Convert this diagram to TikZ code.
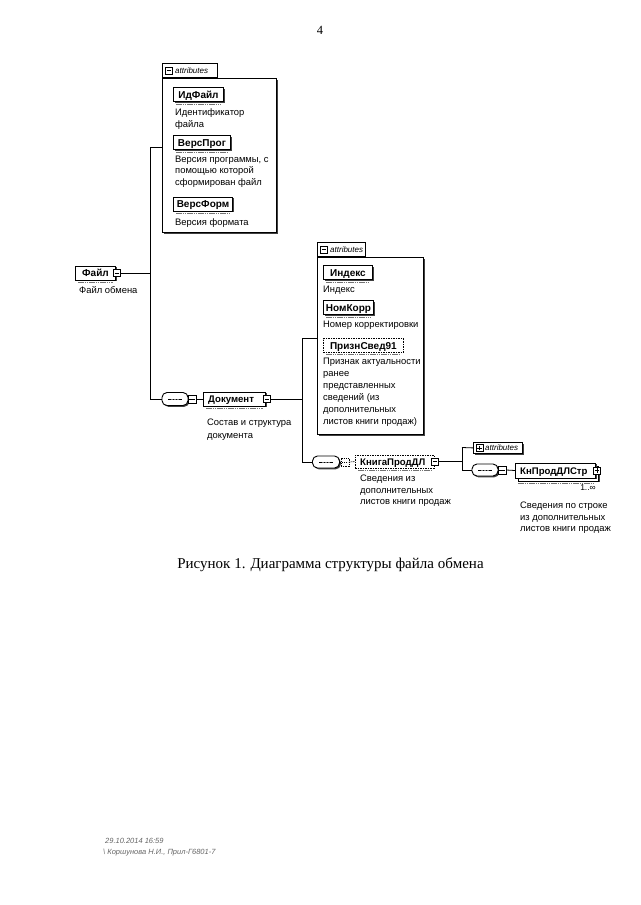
\documentclass[tikz,border=0pt]{standalone}
\usepackage{fontspec}
\setmainfont{Liberation Sans}
\newfontfamily\capserif{Liberation Serif}
\usetikzlibrary{shadows}
\begin{document}
\begin{tikzpicture}[x=1pt,y=-1pt,
  every node/.style={inner sep=0pt},
  sm/.style={font=\fontsize{9.4}{11.5}\selectfont, anchor=north west, align=left},
  shd/.style={drop shadow={shadow xshift=1.3pt,shadow yshift=-1.3pt,fill=black!75,opacity=1}},
  el/.style={draw, line width=1pt, fill=white, font=\bfseries\fontsize{10}{12}\selectfont, text height=7.2pt, text depth=0pt, minimum height=14pt, anchor=west, shd},
  opt/.style={draw, dashed, dash pattern=on 1.5pt off 1pt, line width=0.8pt, fill=white, font=\bfseries\fontsize{10}{12}\selectfont, text height=7.2pt, text depth=0pt, minimum height=14pt, anchor=west},
  lbl/.style={font=\bfseries\fontsize{9.6}{12}\selectfont, anchor=base west},
  docline/.style={black!55, line width=1pt, dash pattern=on 1.5pt off 0.7pt},
  conn/.style={line width=0.8pt},
  minusicon/.style={draw, fill=white, minimum size=7pt, inner sep=0pt, line width=0.6pt,
    path picture={\draw[line width=0.6pt] ([xshift=1.3pt]path picture bounding box.west) -- ([xshift=-1.3pt]path picture bounding box.east);}},
  plusicon/.style={draw, fill=white, minimum size=7pt, inner sep=0pt, line width=0.6pt,
    path picture={\draw[line width=0.6pt] ([xshift=1.3pt]path picture bounding box.west) -- ([xshift=-1.3pt]path picture bounding box.east) ([yshift=-1.3pt]path picture bounding box.north) -- ([yshift=1.3pt]path picture bounding box.south);}},
  seq/.style={draw, fill=white, rounded corners=5pt, minimum width=26pt, minimum height=13pt, line width=0.9pt, shd,
    path picture={\draw[line width=0.8pt] ([xshift=-7pt]path picture bounding box.center) -- ([xshift=7pt]path picture bounding box.center);
      \foreach \d in {-3,0,3}{\fill ([xshift=\d pt]path picture bounding box.center) circle (0.9pt);}}},
  attrbody/.style={draw, fill=white, line width=0.8pt, anchor=north west, shd},
  attrtab/.style={draw, fill=white, line width=0.8pt, anchor=south west, minimum height=14pt},
  attrtxt/.style={font=\itshape\fontsize{8}{9}\selectfont, anchor=west},
]
\useasboundingbox (0,0) rectangle (640,905);

% page number
\node[font=\capserif\fontsize{12.5}{14}\selectfont] (pg) at (320,30) {4};

% ---------- first attributes group
\node[attrbody, minimum width=114pt, minimum height=154pt] (a1) at (162,78) {};
\node[attrtab, minimum width=55pt] (a1t) at (162,78) {};
\node[minusicon] (a1ti) at ([xshift=7pt]a1t.west) {};
\node[attrtxt] (a1tt) at ([xshift=13pt]a1t.west) {attributes};

\node[el, minimum width=50pt] (idf) at (173,94.5) {ИдФайл};
\draw[docline] ([xshift=3pt,yshift=-2pt]idf.south west) -- ([xshift=-3pt,yshift=-2pt]idf.south east);
\node[sm] (idfd) at (175,108.5) {Идентификатор\\файла};

\node[el, minimum width=57pt] (vp) at (173,142.5) {ВерсПрог};
\draw[docline] ([xshift=3pt,yshift=-2pt]vp.south west) -- ([xshift=-3pt,yshift=-2pt]vp.south east);
\node[sm] (vpd) at (175,155.5) {Версия программы, с\\помощью которой\\сформирован файл};

\node[el, minimum width=59pt] (vf) at (173,204) {ВерсФорм};
\draw[docline] ([xshift=3pt,yshift=-2pt]vf.south west) -- ([xshift=-3pt,yshift=-2pt]vf.south east);
\node[sm] (vfd) at (175,218) {Версия формата};

% ---------- root
\node[el, minimum width=40pt] (file) at (75,273) {Файл};
\draw[docline] ([xshift=3pt,yshift=-2pt]file.south west) -- ([xshift=-3pt,yshift=-2pt]file.south east);
\node[minusicon] (fileic) at (117,273) {};
\node[sm] (filed) at (79,286) {Файл обмена};

\coordinate (v1t) at (150,147);
\coordinate (v1b) at (150,399);
\draw[conn] (fileic.east) -- (fileic.east -| v1t);
\draw[conn] (v1t) -- (v1b);
\draw[conn] (v1t) -- (v1t -| a1.west);

% ---------- Документ
\node[seq] (s1) at (175,399) {};
\node[minusicon, minimum size=8pt] (s1i) at (192,399) {};
\node[el, minimum width=62pt] (doc) at (203,399) {};
\node[lbl] (docl) at ([xshift=5pt,yshift=-3.5pt]doc.west) {Документ};
\draw[docline] ([xshift=3pt,yshift=-2pt]doc.south west) -- ([xshift=-3pt,yshift=-2pt]doc.south east);
\node[minusicon] (docic) at (267,399) {};
\node[sm, font=\fontsize{9.4}{13}\selectfont] (docd) at (207,419) {Состав и структура\\документа};
\draw[conn] (v1b) -- (s1.west);
\draw[conn] (s1.east) -- (s1i.west);
\draw[conn] (s1i.east) -- (doc.west);

% ---------- second attributes group
\node[attrbody, minimum width=106pt, minimum height=177pt] (a2) at (317,257) {};
\node[attrtab, minimum width=48pt] (a2t) at (317,257) {};
\node[minusicon] (a2ti) at ([xshift=7pt]a2t.west) {};
\node[attrtxt] (a2tt) at ([xshift=13pt]a2t.west) {attributes};

\node[el, minimum width=49pt] (idx) at (323,272.5) {Индекс};
\draw[docline] ([xshift=3pt,yshift=-2pt]idx.south west) -- ([xshift=-3pt,yshift=-2pt]idx.south east);
\node[sm] (idxd) at (323,285.5) {Индекс};

\node[el, minimum width=50pt] (nk) at (323,307.5) {НомКорр};
\draw[docline] ([xshift=3pt,yshift=-2pt]nk.south west) -- ([xshift=-3pt,yshift=-2pt]nk.south east);
\node[sm] (nkd) at (323,321) {Номер корректировки};

\node[opt, minimum width=80pt] (pr) at (323,345.5) {ПризнСвед91};
\draw[docline] ([xshift=3pt,yshift=-2pt]pr.south west) -- ([xshift=-3pt,yshift=-2pt]pr.south east);
\node[sm, font=\fontsize{9.4}{12}\selectfont] (prd) at (323,358) {Признак актуальности\\ранее\\представленных\\сведений (из\\дополнительных\\листов книги продаж)};

\coordinate (v2t) at (302,338);
\coordinate (v2b) at (302,462);
\draw[conn] (docic.east) -- (docic.east -| v2t);
\draw[conn] (v2t) -- (v2b);
\draw[conn] (v2t) -- (v2t -| a2.west);

% ---------- КнигаПродДЛ
\node[seq, minimum width=27pt, minimum height=12pt] (s2) at (326,462) {};
\node[minusicon, minimum size=8pt, dashed, dash pattern=on 1pt off 0.8pt] (s2i) at (345,462) {};
\node[opt, minimum width=79pt, minimum height=13pt] (kp) at (355,461.5) {};
\node[lbl] (kpl) at ([xshift=5pt,yshift=-3.5pt]kp.west) {КнигаПродДЛ};
\draw[docline] ([xshift=3pt,yshift=-2pt]kp.south west) -- ([xshift=-3pt,yshift=-2pt]kp.south east);
\node[minusicon] (kpic) at (435,461.5) {};
\node[sm] (kpd) at (360,475) {Сведения из\\дополнительных\\листов книги продаж};
\draw[conn] (v2b) -- (s2.west);
\draw[conn] (s2.east) -- (s2i.west);
\draw[conn, dashed, dash pattern=on 1pt off 1pt] (s2i.east) -- (kp.west);

% ---------- third level
\node[draw, fill=white, line width=0.8pt, minimum width=49pt, minimum height=11pt, anchor=north west, shd] (a3) at (473,442) {};
\node[plusicon] (a3i) at ([xshift=6.5pt]a3.west) {};
\node[attrtxt] (a3tt) at ([xshift=12pt]a3.west) {attributes};

\coordinate (v3t) at (462,447.5);
\coordinate (v3b) at (462,470);
\draw[conn] (kpic.east) -- (kpic.east -| v3t);
\draw[conn] (v3t) -- (v3b);
\draw[conn] (v3t) -- (a3.west);

\node[seq, minimum height=12pt] (s3) at (485,470) {};
\node[minusicon, minimum size=8pt] (s3i) at (502,470) {};
\draw[conn] (v3b) -- (s3.west);
\draw[conn] (s3.east) -- (s3i.west);

\node[draw, fill=white, line width=1pt, minimum width=80pt, minimum height=15pt, anchor=west, shd] (ksb) at (518,473.5) {};
\node[el, minimum width=80pt, minimum height=15pt] (ks) at (515,470.5) {};
\node[lbl] (ksl) at ([xshift=5pt,yshift=-3.5pt]ks.west) {КнПродДЛСтр};
\draw[docline] ([xshift=3pt,yshift=-5pt]ks.south west) -- ([xshift=-3pt,yshift=-5pt]ks.south east);
\node[plusicon] (ksic) at (597,470.5) {};
\node[font=\fontsize{8.5}{9}\selectfont] (ksm) at (588,487.5) {1..∞};
\node[sm] (ksd) at (520,502) {Сведения по строке\\из дополнительных\\листов книги продаж};
\draw[conn] (s3i.east) -- (ks.west);

% ---------- caption
\node[font=\capserif\fontsize{15}{17}\selectfont] (cap) at (330.5,565) {Рисунок 1. Диаграмма структуры файла обмена};

% ---------- footer
\node[anchor=west, font=\itshape\fontsize{7.5}{9}\selectfont, text=black!60] (f1) at (105,841) {29.10.2014 16:59};
\node[anchor=west, font=\itshape\fontsize{7.5}{9}\selectfont, text=black!60] (f2) at (103,853) {\textbackslash\ Коршунова Н.И., Прил-Г6801-7};
\end{tikzpicture}
\end{document}
